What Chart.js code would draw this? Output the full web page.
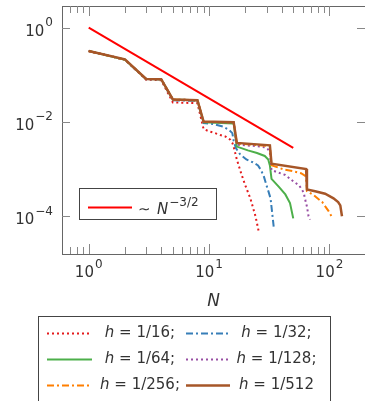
<!DOCTYPE html>
<html>
<head>
<meta charset="utf-8">
<script src="https://cdn.jsdelivr.net/npm/chart.js@4.4.1/dist/chart.umd.min.js"></script>
<style>
  html, body { margin: 0; padding: 0; background: #fff; }
  #chart { display: block; }
</style>
</head>
<body>
<canvas id="chart" width="365" height="401"></canvas>
<script>
// axis range and ticks
const xMin = 0.618, xMax = 197.3;
const yMin = 1.58e-5, yMax = 2.89;
const xMajorTicks = [1, 10, 100];
const xMinorTicks = [0.7, 0.8, 0.9, 2, 3, 4, 5, 6, 7, 8, 9, 20, 30, 40, 50, 60, 70, 80, 90];
const yMajorTicks = [1, 1e-2, 1e-4];
const xTickExp = ['0', '1', '2'];
const yTickExp = ['0', '\u22122', '\u22124'];

// reference slope ~ N^-3/2
const refN = [1, 50];
const refErr = [1, 0.00283];

// h = 1/16
const n16 = [1, 2, 3, 4, 5, 8, 9, 10, 11, 12.4, 13.7, 15, 15.6, 16, 17, 18.5, 20, 22, 24.3, 26];
const e16 = [0.32, 0.21, 0.079, 0.077, 0.026, 0.025, 0.0071, 0.0063, 0.0059, 0.0053, 0.0049, 0.0042, 0.0036, 0.003, 0.0016, 0.0008, 0.00045, 0.00024, 0.0001, 0.000044];
// h = 1/32
const n32 = [1, 2, 3, 4, 5, 8, 9, 11, 13, 14.6, 15.6, 16, 16.7, 18, 20.4, 23, 25.5, 27, 28.5, 30, 31.3, 32.4, 33.4, 34.4];
const e32 = [0.32, 0.21, 0.081, 0.08, 0.029, 0.028, 0.0095, 0.009, 0.008, 0.0068, 0.0058, 0.004, 0.0028, 0.0021, 0.0016, 0.0014, 0.0012, 0.00095, 0.0007, 0.00045, 0.00032, 0.00024, 0.00012, 0.00006];
// h = 1/64
const n64 = [1, 2, 3, 4, 5, 8, 9, 16, 17, 21, 25, 29, 31, 32, 33, 38, 43, 47, 50];
const e64 = [0.32, 0.21, 0.082, 0.081, 0.03, 0.029, 0.0099, 0.0093, 0.003, 0.0025, 0.0022, 0.0019, 0.0016, 0.0012, 0.00062, 0.00042, 0.00029, 0.00019, 0.00009];
// h = 1/128
const n128 = [1, 2, 3, 4, 5, 8, 9, 16, 17, 28, 31, 32, 33, 43, 50, 56, 61, 63, 65, 67, 69];
const e128 = [0.32, 0.21, 0.082, 0.081, 0.03, 0.029, 0.01, 0.0097, 0.0033, 0.003, 0.0026, 0.0022, 0.00095, 0.00075, 0.00055, 0.00045, 0.00032, 0.00022, 0.00016, 0.0001, 0.000085];
// h = 1/256
const n256 = [1, 2, 3, 4, 5, 8, 9, 16, 17, 32, 33, 42, 50, 58, 63, 64, 65, 74, 87, 98, 104];
const e256 = [0.32, 0.21, 0.082, 0.081, 0.03, 0.029, 0.0101, 0.0098, 0.0035, 0.0031, 0.0012, 0.00098, 0.0009, 0.00082, 0.00072, 0.00065, 0.00034, 0.00028, 0.0002, 0.00013, 0.0001];
// h = 1/512
const n512 = [1, 2, 3, 4, 5, 8, 9, 16, 17, 32, 33, 64, 65, 76, 92, 108, 118, 123, 127];
const e512 = [0.32, 0.214, 0.082, 0.081, 0.03, 0.029, 0.0102, 0.0099, 0.0036, 0.0032, 0.0013, 0.001, 0.00037, 0.00034, 0.0003, 0.00024, 0.0002, 0.00017, 0.0001];

const seriesLabels = ['h = 1/16;', 'h = 1/32;', 'h = 1/64;', 'h = 1/128;', 'h = 1/256;', 'h = 1/512'];
const refLabel = 'N';

const FONT = '"DejaVu Sans", sans-serif';
const TEXT = '#333';

function toPoints(ns, es) {
    return ns.map((n, i) => ({ x: n, y: es[i] }));
}

// draws "10" with a raised exponent
function drawPow(ctx, exp, x, baseline, align) {
    ctx.font = '15px ' + FONT;
    const wBase = ctx.measureText('10').width;
    ctx.font = '12px ' + FONT;
    const wExp = ctx.measureText(exp).width;
    const w = wBase + 1 + wExp;
    const start = align === 'right' ? x - w : x - w / 2;
    ctx.textAlign = 'left';
    ctx.textBaseline = 'alphabetic';
    ctx.font = '15px ' + FONT;
    ctx.fillText('10', start, baseline);
    ctx.font = '12px ' + FONT;
    ctx.fillText(exp, start + wBase + 1, baseline - 9.5);
}

// legend text: italic first letter, rest upright
function drawHLabel(ctx, label, cx, cy) {
    ctx.textBaseline = 'middle';
    ctx.textAlign = 'left';
    const first = label[0], rest = label.slice(1);
    ctx.font = 'italic 15px ' + FONT;
    const w1 = ctx.measureText(first).width;
    ctx.font = '15px ' + FONT;
    const w2 = ctx.measureText(rest).width;
    const start = cx - (w1 + w2) / 2;
    ctx.font = 'italic 15px ' + FONT;
    ctx.fillText(first, start, cy);
    ctx.font = '15px ' + FONT;
    ctx.fillText(rest, start + w1, cy);
}

function sampleLine(ctx, ds, x1, x2, y) {
    ctx.save();
    ctx.strokeStyle = ds.borderColor;
    ctx.lineWidth = ds.borderWidth;
    ctx.setLineDash(ds.borderDash || []);
    ctx.beginPath();
    ctx.moveTo(x1, y);
    ctx.lineTo(x2, y);
    ctx.stroke();
    ctx.restore();
}

const frameAndLegends = {
    id: 'frameAndLegends',
    afterDatasetsDraw(chart) {
        const ctx = chart.ctx;
        const a = chart.chartArea;
        const xs = chart.scales.x, ys = chart.scales.y;
        ctx.save();

        // frame
        ctx.strokeStyle = '#666';
        ctx.lineWidth = 1;
        ctx.strokeRect(Math.round(a.left) + 0.5, Math.round(a.top) + 0.5, a.right - a.left, a.bottom - a.top);

        // inward ticks
        ctx.strokeStyle = '#888';
        const tick = (x1, y1, x2, y2) => { ctx.beginPath(); ctx.moveTo(x1, y1); ctx.lineTo(x2, y2); ctx.stroke(); };
        xMajorTicks.concat(xMinorTicks).forEach(v => {
            const px = Math.round(xs.getPixelForValue(v)) + 0.5;
            if (px < a.left || px > a.right) return;
            const len = xMajorTicks.includes(v) ? 10 : 7;
            tick(px, a.bottom, px, a.bottom - len);
            tick(px, a.top, px, a.top + len);
        });
        yMajorTicks.forEach(v => {
            const py = Math.round(ys.getPixelForValue(v)) + 0.5;
            tick(a.left, py, a.left + 8, py);
            tick(a.right, py, a.right - 8, py);
        });

        // tick labels
        ctx.fillStyle = TEXT;
        xMajorTicks.forEach((v, i) => drawPow(ctx, xTickExp[i], xs.getPixelForValue(v), a.bottom + 23, 'center'));
        yMajorTicks.forEach((v, i) => drawPow(ctx, yTickExp[i], 53, ys.getPixelForValue(v) + 8, 'right'));

        // axis title
        ctx.font = 'italic 17px ' + FONT;
        ctx.textAlign = 'center';
        ctx.textBaseline = 'alphabetic';
        ctx.fillText('N', (a.left + a.right) / 2, 306);

        const sets = chart.data.datasets;

        // inner legend
        ctx.fillStyle = '#fff';
        ctx.fillRect(79.5, 188.5, 137, 31);
        ctx.strokeStyle = '#444';
        ctx.lineWidth = 1;
        ctx.strokeRect(79.5, 188.5, 137, 31);
        sampleLine(ctx, sets[0], 88, 132, 207.5);
        ctx.fillStyle = TEXT;
        ctx.textAlign = 'left';
        ctx.textBaseline = 'alphabetic';
        ctx.font = '15px ' + FONT;
        ctx.fillText('\u223C', 138, 214);
        ctx.font = 'italic 15px ' + FONT;
        ctx.fillText(refLabel, 157, 214);
        const wN = ctx.measureText(refLabel).width;
        ctx.font = '12px ' + FONT;
        ctx.fillText('\u22123/2', 157 + wN + 1, 206);

        // bottom legend
        ctx.strokeStyle = '#444';
        ctx.strokeRect(38.5, 316.5, 292, 100);
        const rowsY = [333.5, 359.5, 385.5];
        const lineX = [[47, 92], [186, 230]];
        const textX = [140, 276.5];
        for (let i = 0; i < seriesLabels.length; i++) {
            const r = Math.floor(i / 2), c = i % 2;
            sampleLine(ctx, sets[i + 1], lineX[c][0], lineX[c][1], rowsY[r]);
            ctx.fillStyle = TEXT;
            drawHLabel(ctx, seriesLabels[i], textX[c], rowsY[r]);
        }
        ctx.restore();
    }
};

const lineBase = { pointRadius: 0, fill: false, tension: 0 };

new Chart(document.getElementById('chart').getContext('2d'), {
    type: 'line',
    data: {
        datasets: [
            { ...lineBase, label: 'N^-3/2', data: toPoints(refN, refErr), borderColor: '#ff0000', borderWidth: 2, order: 0 },
            { ...lineBase, label: seriesLabels[0], data: toPoints(n16, e16), borderColor: '#e41a1c', borderWidth: 2, borderDash: [2, 3], order: 6 },
            { ...lineBase, label: seriesLabels[1], data: toPoints(n32, e32), borderColor: '#377eb8', borderWidth: 2, borderDash: [7, 3, 2, 3], order: 5 },
            { ...lineBase, label: seriesLabels[2], data: toPoints(n64, e64), borderColor: '#4daf4a', borderWidth: 2, order: 4 },
            { ...lineBase, label: seriesLabels[3], data: toPoints(n128, e128), borderColor: '#984ea3', borderWidth: 2, borderDash: [2, 3], order: 3 },
            { ...lineBase, label: seriesLabels[4], data: toPoints(n256, e256), borderColor: '#ff7f00', borderWidth: 2, borderDash: [7, 3, 2, 3], order: 2 },
            { ...lineBase, label: seriesLabels[5], data: toPoints(n512, e512), borderColor: '#a65628', borderWidth: 2.5, order: 1 }
        ]
    },
    options: {
        responsive: false,
        animation: false,
        devicePixelRatio: 1,
        layout: { padding: { left: 62, top: 6, right: 0, bottom: 147 } },
        plugins: { legend: { display: false }, tooltip: { enabled: false } },
        scales: {
            x: { type: 'logarithmic', min: xMin, max: xMax, display: false },
            y: { type: 'logarithmic', min: yMin, max: yMax, display: false }
        }
    },
    plugins: [frameAndLegends]
});
</script>
</body>
</html>
